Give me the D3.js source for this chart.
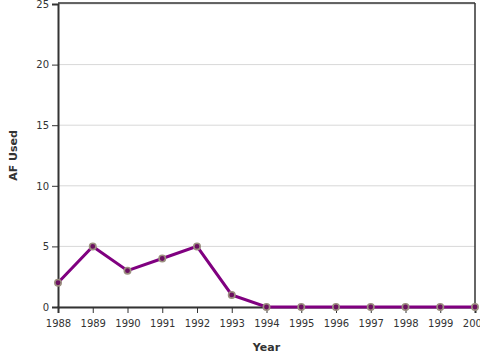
<!DOCTYPE html>
<html><head><meta charset="utf-8">
<script src="https://cdn.jsdelivr.net/npm/d3@7"></script>
<style>body{margin:0;background:#fff;} svg{display:block;font-family:"DejaVu Sans",sans-serif;}</style>
</head><body><svg id="c" width="480" height="360"></svg>
<script>
const years = [1988,1989,1990,1991,1992,1993,1994,1995,1996,1997,1998,1999,2000];
const afUsed = [2,5,3,4,5,1,0,0,0,0,0,0,0];
const yTicks = [0,5,10,15,20,25];

const svg = d3.select("#c");
const L=58, R=475, T=4, B=307;
const x = d3.scaleLinear().domain([1988,2000]).range([L,R]);
const y = d3.scaleLinear().domain([0,25]).range([B,T]);

svg.append("g").selectAll("line").data(yTicks).join("line")
  .attr("x1",L).attr("x2",R).attr("y1",d=>y(d)).attr("y2",d=>y(d))
  .attr("stroke","#d8d8d8").attr("stroke-width",1);

svg.append("line").attr("x1",L).attr("x2",R).attr("y1",T-1).attr("y2",T-1).attr("stroke","#333").attr("stroke-width",1.5);
svg.append("line").attr("x1",R).attr("x2",R).attr("y1",T-1).attr("y2",B).attr("stroke","#333").attr("stroke-width",1.5);

const yAxis = svg.append("g").attr("transform",`translate(${L},0)`)
  .call(d3.axisLeft(y).tickValues(yTicks).tickSize(6).tickPadding(3));
const xAxis = svg.append("g").attr("transform",`translate(0,${B})`)
  .call(d3.axisBottom(x).tickValues(years).tickFormat(d3.format("d")).tickSize(6).tickPadding(7));
[yAxis,xAxis].forEach(a=>{
  a.select(".domain").attr("stroke","#333").attr("stroke-width",2);
  a.selectAll(".tick line").attr("stroke","#333");
  a.selectAll("text").attr("fill","#333").style("font-size","10px").style("font-family","DejaVu Sans");
});

svg.append("text").attr("x",(L+R)/2).attr("y",351).attr("text-anchor","middle")
  .style("font-size","11px").style("font-weight","bold").attr("fill","#333").text("Year");
svg.append("text").attr("transform",`translate(17,${(T+B)/2}) rotate(-90)`).attr("text-anchor","middle")
  .style("font-size","11px").style("font-weight","bold").attr("fill","#333").text("AF Used");

const data = years.map((yr,i)=>({yr, v:afUsed[i]}));
svg.append("path").datum(data)
  .attr("fill","none").attr("stroke","#800080").attr("stroke-width",3)
  .attr("d", d3.line().x(d=>x(d.yr)).y(d=>y(d.v)));
svg.append("g").selectAll("circle").data(data).join("circle")
  .attr("cx",d=>x(d.yr)).attr("cy",d=>y(d.v)).attr("r",3.2)
  .attr("fill","#6b1060").attr("stroke","#9c9080").attr("stroke-width",1.6);
</script></body></html>
